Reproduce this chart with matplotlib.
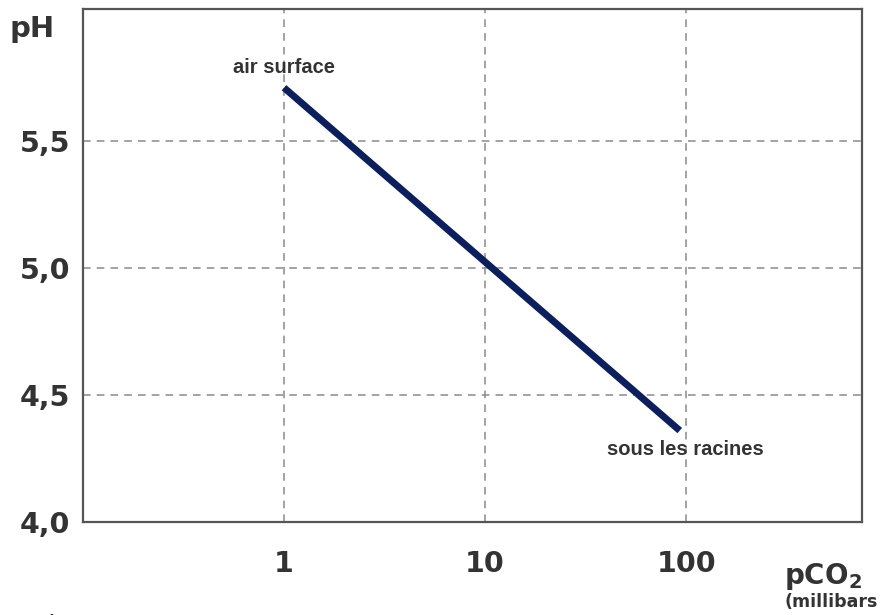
import matplotlib
matplotlib.use("Agg")
import matplotlib.pyplot as plt

# Data
pco2 = [1, 93]
ph = [5.71, 4.36]
x_ticks = [1, 10, 100]
x_tick_labels = ["1", "10", "100"]
y_ticks = [4.0, 4.5, 5.0, 5.5]
y_tick_labels = ["4,0", "4,5", "5,0", "5,5"]
label_start = "air surface"
label_end = "sous les racines"

W, H = 881, 615
fig = plt.figure(figsize=(W / 100, H / 100), dpi=100)
left, right, top, bottom = 83, 862, 9, 522
ax = fig.add_axes([left / W, 1 - bottom / H, (right - left) / W, (bottom - top) / H])

ax.set_xscale("log")
ax.set_xlim(0.1, 750)
ax.set_ylim(4.0, 6.02)

ax.plot(pco2, ph, color="#0b1f5e", lw=5, solid_capstyle="butt", zorder=3)

ax.set_xticks(x_ticks)
ax.set_xticklabels(x_tick_labels)
ax.set_xticks([], minor=True)
ax.set_yticks(y_ticks)
ax.set_yticklabels(y_tick_labels)
ax.tick_params(axis="both", length=0, labelsize=20.5, labelcolor="#333333")
ax.tick_params(axis="x", pad=20)
ax.tick_params(axis="y", pad=9)
for lab in ax.get_xticklabels() + ax.get_yticklabels():
    lab.set_fontweight("heavy")
    lab.set_family("DejaVu Sans")

ax.grid(True, which="major", linestyle=(0, (5, 4)), color="#8a8a8a", lw=1.1)
for s in ax.spines.values():
    s.set_color("#555555")
    s.set_linewidth(1.6)

ax.annotate(label_start, xy=(pco2[0], ph[0]), xytext=(0, 20), textcoords="offset pixels",
            ha="center", va="center", fontsize=14.5, color="#333333",
            family="Liberation Sans", fontweight="bold")
ax.annotate(label_end, xy=(pco2[1], ph[1]), xytext=(6, -19), textcoords="offset pixels",
            ha="center", va="center", fontsize=14.5, color="#333333",
            family="Liberation Sans", fontweight="bold")

fig.text(10 / W, 1 - 29 / H, "pH", ha="left", va="center", fontsize=21,
         fontweight="heavy", color="#333333", family="DejaVu Sans")
fig.text(862 / W, 1 - 577 / H, "pCO$_\\mathbf{2}$", ha="right", va="center", fontsize=20,
         fontweight="heavy", color="#333333", family="DejaVu Sans")
fig.text(878 / W, 1 - 602 / H, "(millibars", ha="right", va="center", fontsize=12.5,
         fontweight="bold", color="#333333", family="DejaVu Sans")
fig.text(50 / W, 1 - 627 / H, "É", ha="center", va="center", fontsize=14,
         fontweight="bold", color="#333333", family="DejaVu Sans")

fig.savefig("out.png", dpi=100)
